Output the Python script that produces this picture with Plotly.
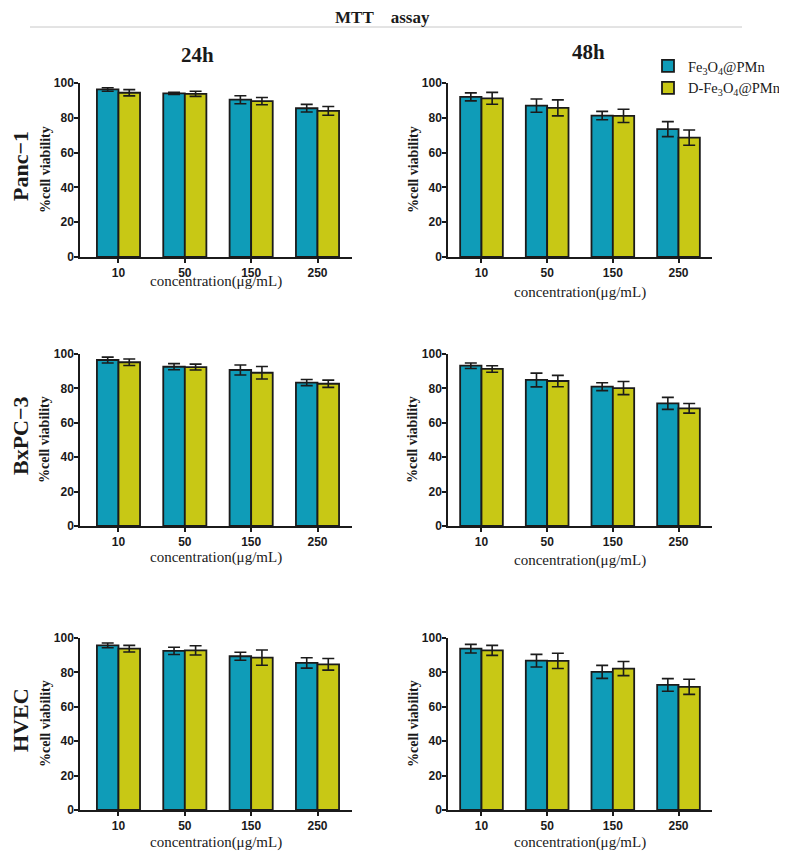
import plotly.graph_objects as go

# concentraciones (categorias del eje x)
concentrations = ["10", "50", "150", "250"]

# Panc-1
panc_24_fe = [96.3, 94.0, 90.4, 85.5]
panc_24_fe_err = [1.0, 0.6, 2.3, 2.2]
panc_24_dfe = [94.4, 93.8, 89.6, 84.0]
panc_24_dfe_err = [1.8, 1.5, 2.1, 2.5]
panc_48_fe = [92.0, 87.0, 81.3, 73.5]
panc_48_fe_err = [2.3, 3.8, 2.4, 4.3]
panc_48_dfe = [91.2, 85.7, 81.1, 68.6]
panc_48_dfe_err = [3.4, 4.6, 3.8, 4.4]

# BxPC-3
bxpc_24_fe = [96.5, 92.6, 90.7, 83.4]
bxpc_24_fe_err = [1.7, 1.8, 2.9, 1.8]
bxpc_24_dfe = [95.2, 92.4, 89.1, 82.7]
bxpc_24_dfe_err = [1.9, 1.7, 3.6, 2.1]
bxpc_48_fe = [93.2, 84.9, 81.0, 71.3]
bxpc_48_fe_err = [1.6, 4.0, 2.3, 3.5]
bxpc_48_dfe = [91.3, 84.3, 80.2, 68.4]
bxpc_48_dfe_err = [1.9, 3.3, 3.8, 2.8]

# HVEC
hvec_24_fe = [95.7, 92.5, 89.4, 85.5]
hvec_24_fe_err = [1.4, 2.1, 2.3, 3.0]
hvec_24_dfe = [93.8, 92.8, 88.6, 84.7]
hvec_24_dfe_err = [1.9, 2.7, 4.4, 3.4]
hvec_48_fe = [93.8, 86.8, 80.3, 72.7]
hvec_48_fe_err = [2.5, 3.7, 3.8, 3.7]
hvec_48_dfe = [92.8, 86.7, 82.2, 71.6]
hvec_48_dfe_err = [2.9, 4.4, 4.1, 4.4]

row_labels = ["Panc−1", "BxPC−3", "HVEC"]
col_labels = ["24h", "48h"]
series_names = ["Fe<sub>3</sub>O<sub>4</sub>@PMn", "D-Fe<sub>3</sub>O<sub>4</sub>@PMn"]

panels = [
    (panc_24_fe, panc_24_fe_err, panc_24_dfe, panc_24_dfe_err),
    (panc_48_fe, panc_48_fe_err, panc_48_dfe, panc_48_dfe_err),
    (bxpc_24_fe, bxpc_24_fe_err, bxpc_24_dfe, bxpc_24_dfe_err),
    (bxpc_48_fe, bxpc_48_fe_err, bxpc_48_dfe, bxpc_48_dfe_err),
    (hvec_24_fe, hvec_24_fe_err, hvec_24_dfe, hvec_24_dfe_err),
    (hvec_48_fe, hvec_48_fe_err, hvec_48_dfe, hvec_48_dfe_err),
]

# el body de la pagina deja 8px arriba y a la izquierda
OFF = 8
W, H = 787 - OFF, 852 - OFF
BLUE = "#0f9cb8"
YELLOW = "#c8c815"
EDGE = "#1b1b1b"
SERIF = "Liberation Serif, Times New Roman, serif"
SANS = "Liberation Sans, Arial, sans-serif"


def px(x):
    return (x - OFF) / W


def py(y):
    return 1 - (y - OFF) / H


# posiciones en pixeles de la captura (izq, der) / (arriba, abajo)
col_px = [(80, 352), (448, 712)]
row_px = [(83, 257), (354, 526), (638, 810)]
x_ranges = [[-0.58, 3.52], [-0.51, 3.51]]
xtitle_y = [[281, 292], [557, 560], [842, 842]]

fig = go.Figure()
annotations = []


def note(text, x, y, size, angle=0, family=SERIF):
    annotations.append(dict(text=text, x=px(x), y=py(y), xref="paper", yref="paper",
                            xanchor="center", yanchor="middle", showarrow=False,
                            textangle=angle, font=dict(family=family, size=size, color="#1a1a1a")))


for i, (fe, fe_err, dfe, dfe_err) in enumerate(panels):
    r, c = divmod(i, 2)
    n = i + 1
    xa = "x" if n == 1 else f"x{n}"
    ya = "y" if n == 1 else f"y{n}"
    for k, (vals, errs, color) in enumerate([(fe, fe_err, BLUE), (dfe, dfe_err, YELLOW)]):
        fig.add_trace(go.Bar(
            x=concentrations, y=vals, name=series_names[k],
            marker=dict(color=color, line=dict(color=EDGE, width=1.8)),
            error_y=dict(type="data", array=errs, visible=True, color=EDGE, thickness=1.6, width=6),
            xaxis=xa, yaxis=ya, offsetgroup=str(k), legendgroup=str(k),
            showlegend=(i == 1),
        ))
    x0, x1 = col_px[c]
    y0, y1 = row_px[r]
    axis_common = dict(showline=True, linecolor=EDGE, linewidth=1.5, ticks="outside",
                       ticklen=4, tickwidth=1.5, tickcolor=EDGE, showgrid=False, zeroline=False,
                       automargin=False,
                       tickfont=dict(family=SANS, size=12, color="#1a1a1a", weight="bold"))
    fig.update_layout(**{
        f"xaxis{'' if n == 1 else n}": dict(axis_common, domain=[px(x0), px(x1)], anchor=ya,
                                             range=x_ranges[c], type="category"),
        f"yaxis{'' if n == 1 else n}": dict(axis_common, domain=[py(y1), py(y0)], anchor=xa,
                                             range=[0, 100], tickvals=[0, 20, 40, 60, 80, 100],
                                             ticklabelstandoff=-2),
    })
    # titulos de ejes
    note("concentration(μg/mL)", (x0 + x1) / 2, xtitle_y[r][c], 15)
    note("<b>%cell viability</b>", x0 - 35, (y0 + y1) / 2, 14, angle=-90)

for r, lab in enumerate(row_labels):
    y0, y1 = row_px[r]
    note(f"<b>{lab}</b>", 20, (y0 + y1) / 2 - 4, 22, angle=-90)

for c, lab in enumerate(col_labels):
    note(f"<b>{lab}</b>", [197, 588][c], [55, 52][c], 21)

note("<b>MTT\u00a0\u00a0\u00a0\u00a0assay</b>", 382, 18, 17)

fig.update_layout(
    width=W, height=H,
    margin=dict(l=0, r=0, t=0, b=0, autoexpand=False),
    paper_bgcolor="white", plot_bgcolor="white",
    barmode="group", bargap=0.35, bargroupgap=0,
    annotations=annotations,
    shapes=[dict(type="line", xref="paper", yref="paper", x0=px(30), x1=px(742),
                 y0=py(27), y1=py(27), line=dict(color="#c8c8c8", width=1))],
    legend=dict(x=px(648), y=py(50), xanchor="left", yanchor="top",
                font=dict(family=SERIF, size=14.5, color="#1a1a1a"),
                bgcolor="rgba(0,0,0,0)", tracegroupgap=0),
)

fig.write_html("out.html")
